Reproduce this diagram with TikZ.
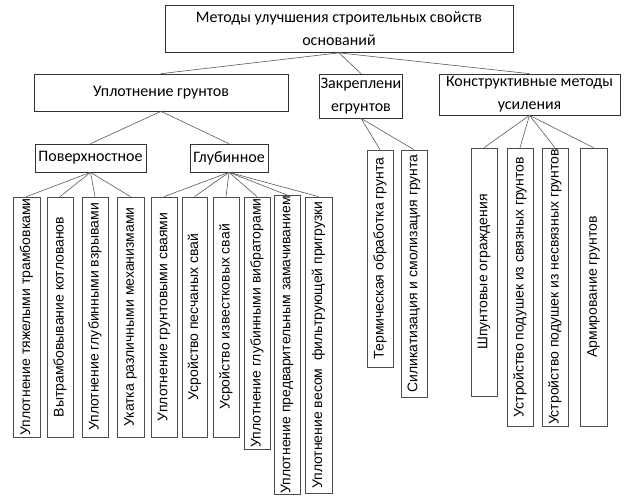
\documentclass[tikz,border=0pt]{standalone}
\usepackage{fontspec}
\setmainfont{Carlito}
\newfontfamily\vfont{Liberation Sans}
\begin{document}
\begin{tikzpicture}[x=1pt,y=-1pt,
  hb/.style={draw=black!80,line width=0.7pt,align=center,inner sep=1pt,font=\fontsize{16}{23}\selectfont},
  vb/.style={draw=black!70,line width=0.7pt,rotate=90,inner sep=1pt,font=\vfont\fontsize{14}{16}\selectfont},
  ln/.style={draw=black!65,line width=0.6pt}]
\useasboundingbox (0,0) rectangle (624,501);
\node[hb,minimum width=348pt,minimum height=47pt] (top) at (339,29) {Методы улучшения строительных свойств\\оснований};
\node[hb,minimum width=254pt,minimum height=37pt] (upl) at (161,92.5) {Уплотнение грунтов};
\node[hb,minimum width=78pt,minimum height=44pt] (zak) at (361,96) {Закреплени\\егрунтов};
\node[hb,minimum width=181pt,minimum height=41pt] (kon) at (529.5,94.5) {Конструктивные методы\\усиления};
\node[hb,minimum width=111pt,minimum height=28pt] (pov) at (90.5,158) {Поверхностное};
\node[hb,minimum width=78pt,minimum height=28pt] (glu) at (229,158) {Глубинное};
\node[vb,minimum width=240pt,minimum height=27pt] (p1) at (26.5,317) {Уплотнение тяжелыми трамбовками};
\node[vb,minimum width=240pt,minimum height=26pt] (p2) at (60,317) {Вытрамбовывание котлованов};
\node[vb,minimum width=240pt,minimum height=26pt] (p3) at (95,317) {Уплотнение глубинными взрывами};
\node[vb,minimum width=240pt,minimum height=27pt] (p4) at (130.5,317) {Укатка различными механизмами};
\node[vb,minimum width=240pt,minimum height=26pt] (g1) at (164,317) {Уплотнение грунтовыми сваями};
\node[vb,minimum width=240pt,minimum height=25pt] (g2) at (194.5,317) {Усройство песчаных свай};
\node[vb,minimum width=240pt,minimum height=26pt] (g3) at (226,317) {Усройство известковых свай};
\node[vb,minimum width=252pt,minimum height=26pt] (g4) at (257,323) {Уплотнение глубинными вибраторами};
\node[vb,minimum width=296pt,minimum height=26pt] (g5) at (287,345) {Уплотнение предварительным замачиванием};
\node[vb,minimum width=296pt,minimum height=27pt] (g6) at (318.5,345) {Уплотнение весом\ \ фильтрующей пригрузки};
\node[vb,minimum width=217pt,minimum height=26pt] (z1) at (380,258.5) {Термическая обработка грунта};
\node[vb,minimum width=247pt,minimum height=26pt] (z2) at (414,273.5) {Силикатизация и смолизация грунта};
\node[vb,minimum width=248pt,minimum height=26pt] (k1) at (484,272) {Шпунтовые ограждения};
\node[vb,minimum width=278pt,minimum height=26pt] (k2) at (520,287) {Устройство подушек из связных грунтов};
\node[vb,minimum width=278pt,minimum height=26pt] (k3) at (555,287) {Устройство подушек из несвязных грунтов};
\node[vb,minimum width=278pt,minimum height=27pt] (k4) at (593.5,287) {Армирование грунтов};
\foreach \c in {upl,zak,kon} \draw[ln] (top.south) -- (\c.north);
\foreach \c in {pov,glu} \draw[ln] (upl.south) -- (\c.north);
\foreach \c in {p1,p2,p3,p4} \draw[ln] (pov.south) -- (\c.east);
\foreach \c in {g1,g2,g3,g4,g5,g6} \draw[ln] (glu.south) -- (\c.east);
\foreach \c in {z1,z2} \draw[ln] (zak.south) -- (\c.east);
\foreach \c in {k1,k2,k3,k4} \draw[ln] (kon.south) -- (\c.east);
\end{tikzpicture}
\end{document}
